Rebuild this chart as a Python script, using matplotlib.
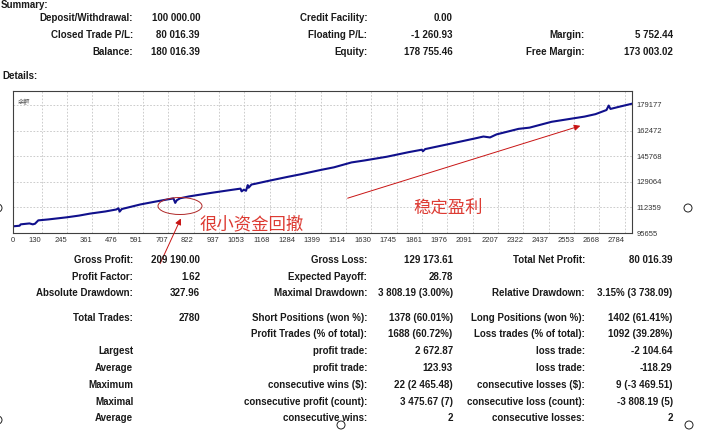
import matplotlib
matplotlib.use("Agg")
import matplotlib.pyplot as plt
from matplotlib.patches import Ellipse, FancyArrowPatch

W, H = 701, 432

# balance curve (trade number, balance)
trades = [0, 30, 35, 75, 90, 100, 115, 160, 245, 300, 350, 420, 470, 480, 485, 495,
          580, 650, 700, 730, 738, 745, 760, 800, 900, 1000, 1035, 1040, 1050, 1060,
          1068, 1072, 1085, 1100, 1160, 1250, 1310, 1400, 1460, 1540, 1600, 1700,
          1800, 1860, 1865, 1875, 1990, 2100, 2140, 2170, 2200, 2300, 2350, 2450,
          2600, 2650, 2700, 2710, 2718, 2760, 2816]
balance = [100000, 100400, 101300, 101900, 101300, 101700, 103900, 104500, 105900,
           107000, 108300, 109700, 111000, 111800, 109600, 111300, 114300, 116200,
           117500, 118200, 115300, 117000, 118300, 119500, 121800, 123900, 124600,
           122800, 123900, 123200, 126900, 125200, 127300, 127700, 129600, 132300,
           134000, 136800, 138500, 141700, 143000, 145400, 148400, 150000, 149000,
           150400, 153900, 157300, 158600, 158000, 160000, 163600, 164400, 168200,
           171600, 173200, 175900, 178800, 176600, 178100, 180016]

x_ticks = [0, 130, 245, 361, 476, 591, 707, 822, 937, 1053, 1168, 1284, 1399, 1514,
           1630, 1745, 1861, 1976, 2091, 2207, 2322, 2437, 2553, 2668, 2784]
y_ticks = [95655, 112359, 129064, 145768, 162472, 179177]

# summary rows: label, value, label, value, label, value
summary_rows = [
    ["Deposit/Withdrawal:", "100 000.00", "Credit Facility:", "0.00", "", ""],
    ["Closed Trade P/L:", "80 016.39", "Floating P/L:", "-1 260.93", "Margin:", "5 752.44"],
    ["Balance:", "180 016.39", "Equity:", "178 755.46", "Free Margin:", "173 003.02"],
]
details_rows = [
    ["Gross Profit:", "209 190.00", "Gross Loss:", "129 173.61", "Total Net Profit:", "80 016.39"],
    ["Profit Factor:", "1.62", "Expected Payoff:", "28.78", "", ""],
    ["Absolute Drawdown:", "327.96", "Maximal Drawdown:", "3 808.19 (3.00%)", "Relative Drawdown:", "3.15% (3 738.09)"],
    ["Total Trades:", "2780", "Short Positions (won %):", "1378 (60.01%)", "Long Positions (won %):", "1402 (61.41%)"],
    ["", "", "Profit Trades (% of total):", "1688 (60.72%)", "Loss trades (% of total):", "1092 (39.28%)"],
    ["Largest", "", "profit trade:", "2 672.87", "loss trade:", "-2 104.64"],
    ["Average", "", "profit trade:", "123.93", "loss trade:", "-118.29"],
    ["Maximum", "", "consecutive wins ($):", "22 (2 465.48)", "consecutive losses ($):", "9 (-3 469.51)"],
    ["Maximal", "", "consecutive profit (count):", "3 475.67 (7)", "consecutive loss (count):", "-3 808.19 (5)"],
    ["Average", "", "consecutive wins:", "2", "consecutive losses:", "2"],
]
summary_y = [18.3, 34.7, 51.7]
details_y = [260, 276.7, 293.3, 317.7, 334.3, 351, 368.3, 385, 401.7, 418.3]
col_x = [133.3, 200, 367.3, 452.7, 585, 672.7]


def fx(x):
    return x / W


def fy(y):
    return 1 - y / H


fig = plt.figure(figsize=(W / 100, H / 100), dpi=100)
fig.patch.set_facecolor("white")

txt = dict(fontfamily="Liberation Sans", fontweight="bold", fontsize=7.0,
           color="#1a1a1a", va="center", ha="right")


def put_rows(rows, ys):
    for row, y in zip(rows, ys):
        for cell, x in zip(row, col_x):
            if cell:
                fig.text(fx(x), fy(y), cell, **txt)


fig.text(fx(1), fy(4.5), "Summary:", **{**txt, "ha": "left"})
put_rows(summary_rows, summary_y)
fig.text(fx(2), fy(76), "Details:", **{**txt, "ha": "left"})
put_rows(details_rows, details_y)

# chart
ax = fig.add_axes([fx(13), fy(233), fx(632) - fx(13), fy(91) - fy(233)])
ax.plot(trades, balance, color="#10108c", lw=1.5, solid_joinstyle="round")
ax.set_xlim(0, 2816)
ax.set_ylim(95655, 188300)
ax.set_xticks(x_ticks)
ax.set_yticks(y_ticks)
ax.set_xticklabels([str(v) for v in x_ticks])
ax.set_yticklabels([str(v) for v in y_ticks])
for lab in ax.get_xticklabels():
    lab.set_horizontalalignment("right")
ax.get_xticklabels()[0].set_horizontalalignment("center")
ax.yaxis.tick_right()
ax.tick_params(axis="both", length=0, labelsize=5.5, colors="#333333", pad=3)
for lab in ax.get_xticklabels() + ax.get_yticklabels():
    lab.set_fontfamily("Liberation Sans")
ax.grid(True, color="#c4c4c4", ls=(0, (2, 2)), lw=0.6)
for s in ax.spines.values():
    s.set_color("#404040")
    s.set_linewidth(0.8)
ax.text(0.008, 0.95, "余额", transform=ax.transAxes, fontsize=4.5,
        fontfamily="Noto Sans CJK SC", color="#555555", va="top", ha="left")

# annotations
red = "#dd3b33"
fig.add_artist(Ellipse((fx(180), fy(206)), 44 / W, 17 / H, transform=fig.transFigure,
                       fill=False, ec="#b02828", lw=0.7))
fig.text(fx(200), fy(224), "很小资金回撤", fontsize=12.5, color=red,
         fontfamily="Noto Sans CJK SC", va="center", ha="left")
fig.text(fx(413), fy(208), "稳定盈利", fontsize=12.5, color=red,
         fontfamily="Noto Sans CJK SC", va="center", ha="left")
for (x0, y0), (x1, y1) in [((159, 266), (182, 216)), ((345, 199), (583, 125))]:
    fig.add_artist(FancyArrowPatch((fx(x0), fy(y0)), (fx(x1), fy(y1)),
                                   transform=fig.transFigure, arrowstyle="-|>",
                                   mutation_scale=9, color="#c81414", lw=0.7))

# resize handles of the pasted picture
for cx, cy in [(688, 208), (689, 425), (341, 425), (-2, 208), (-2, 420)]:
    fig.add_artist(Ellipse((fx(cx), fy(cy)), 8 / W, 8 / H, transform=fig.transFigure,
                           fill=False, ec="#222222", lw=0.7))

plt.savefig("out.png", dpi=100)
